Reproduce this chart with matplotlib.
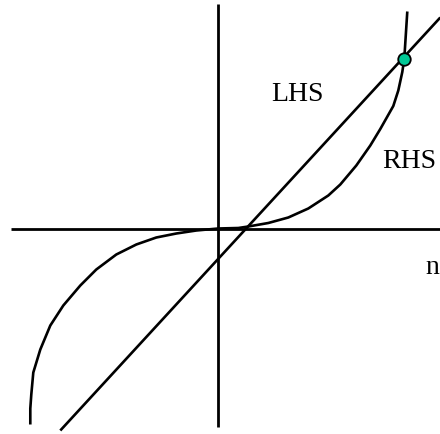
import matplotlib
matplotlib.use('Agg')
import matplotlib.pyplot as plt

# RHS curve (origin at the axes crossing)
rhs_x = [-188, -188, -187, -185, -178, -168, -155, -138, -122, -102, -82, -62, -42, -22,
         0, 20, 30, 50, 70, 90, 110, 122, 138, 152, 162, 175, 180, 184, 186, 189]
rhs_y = [-196, -180, -166, -144, -121, -97, -77, -57, -41, -26, -16, -9, -5, -2,
         0, 0.5, 2, 5.5, 11, 20, 33, 44, 63, 83, 99.5, 122.5, 138, 156.5, 170, 217]

# LHS straight line
lhs_x = [-158, 222]
lhs_y = [-202, 211]

# intersection point
cross_x = [186]
cross_y = [170]

# axis extents
haxis_x = [-207, 222]
vaxis_y = [-198, 225]

fig = plt.figure(figsize=(4.4, 4.35), dpi=100)
ax = fig.add_axes([0, 0, 1, 1])
ax.set_xlim(-218.3, 221.7)
ax.set_ylim(-205.5, 229.5)
ax.axis('off')

ax.plot(haxis_x, [0, 0], color='black', lw=2.0, solid_capstyle='butt')
ax.plot([0, 0], vaxis_y, color='black', lw=2.0, solid_capstyle='butt')

ax.plot(lhs_x, lhs_y, color='black', lw=1.9, solid_capstyle='butt')
ax.plot(rhs_x, rhs_y, color='black', lw=1.9, solid_capstyle='butt',
        solid_joinstyle='round')

ax.plot(cross_x, cross_y, 'o', markersize=9, markerfacecolor='#00c896',
        markeredgecolor='black', markeredgewidth=1.3, zorder=5)

font = ['Liberation Serif', 'DejaVu Serif']
ax.text(79, 135, 'LHS', fontsize=20, family=font, ha='center', va='center')
ax.text(191, 68.5, 'RHS', fontsize=20, family=font, ha='center', va='center')
ax.text(214, -38.5, 'n', fontsize=20, family=font, ha='center', va='center')

fig.savefig('out.png', dpi=100)
